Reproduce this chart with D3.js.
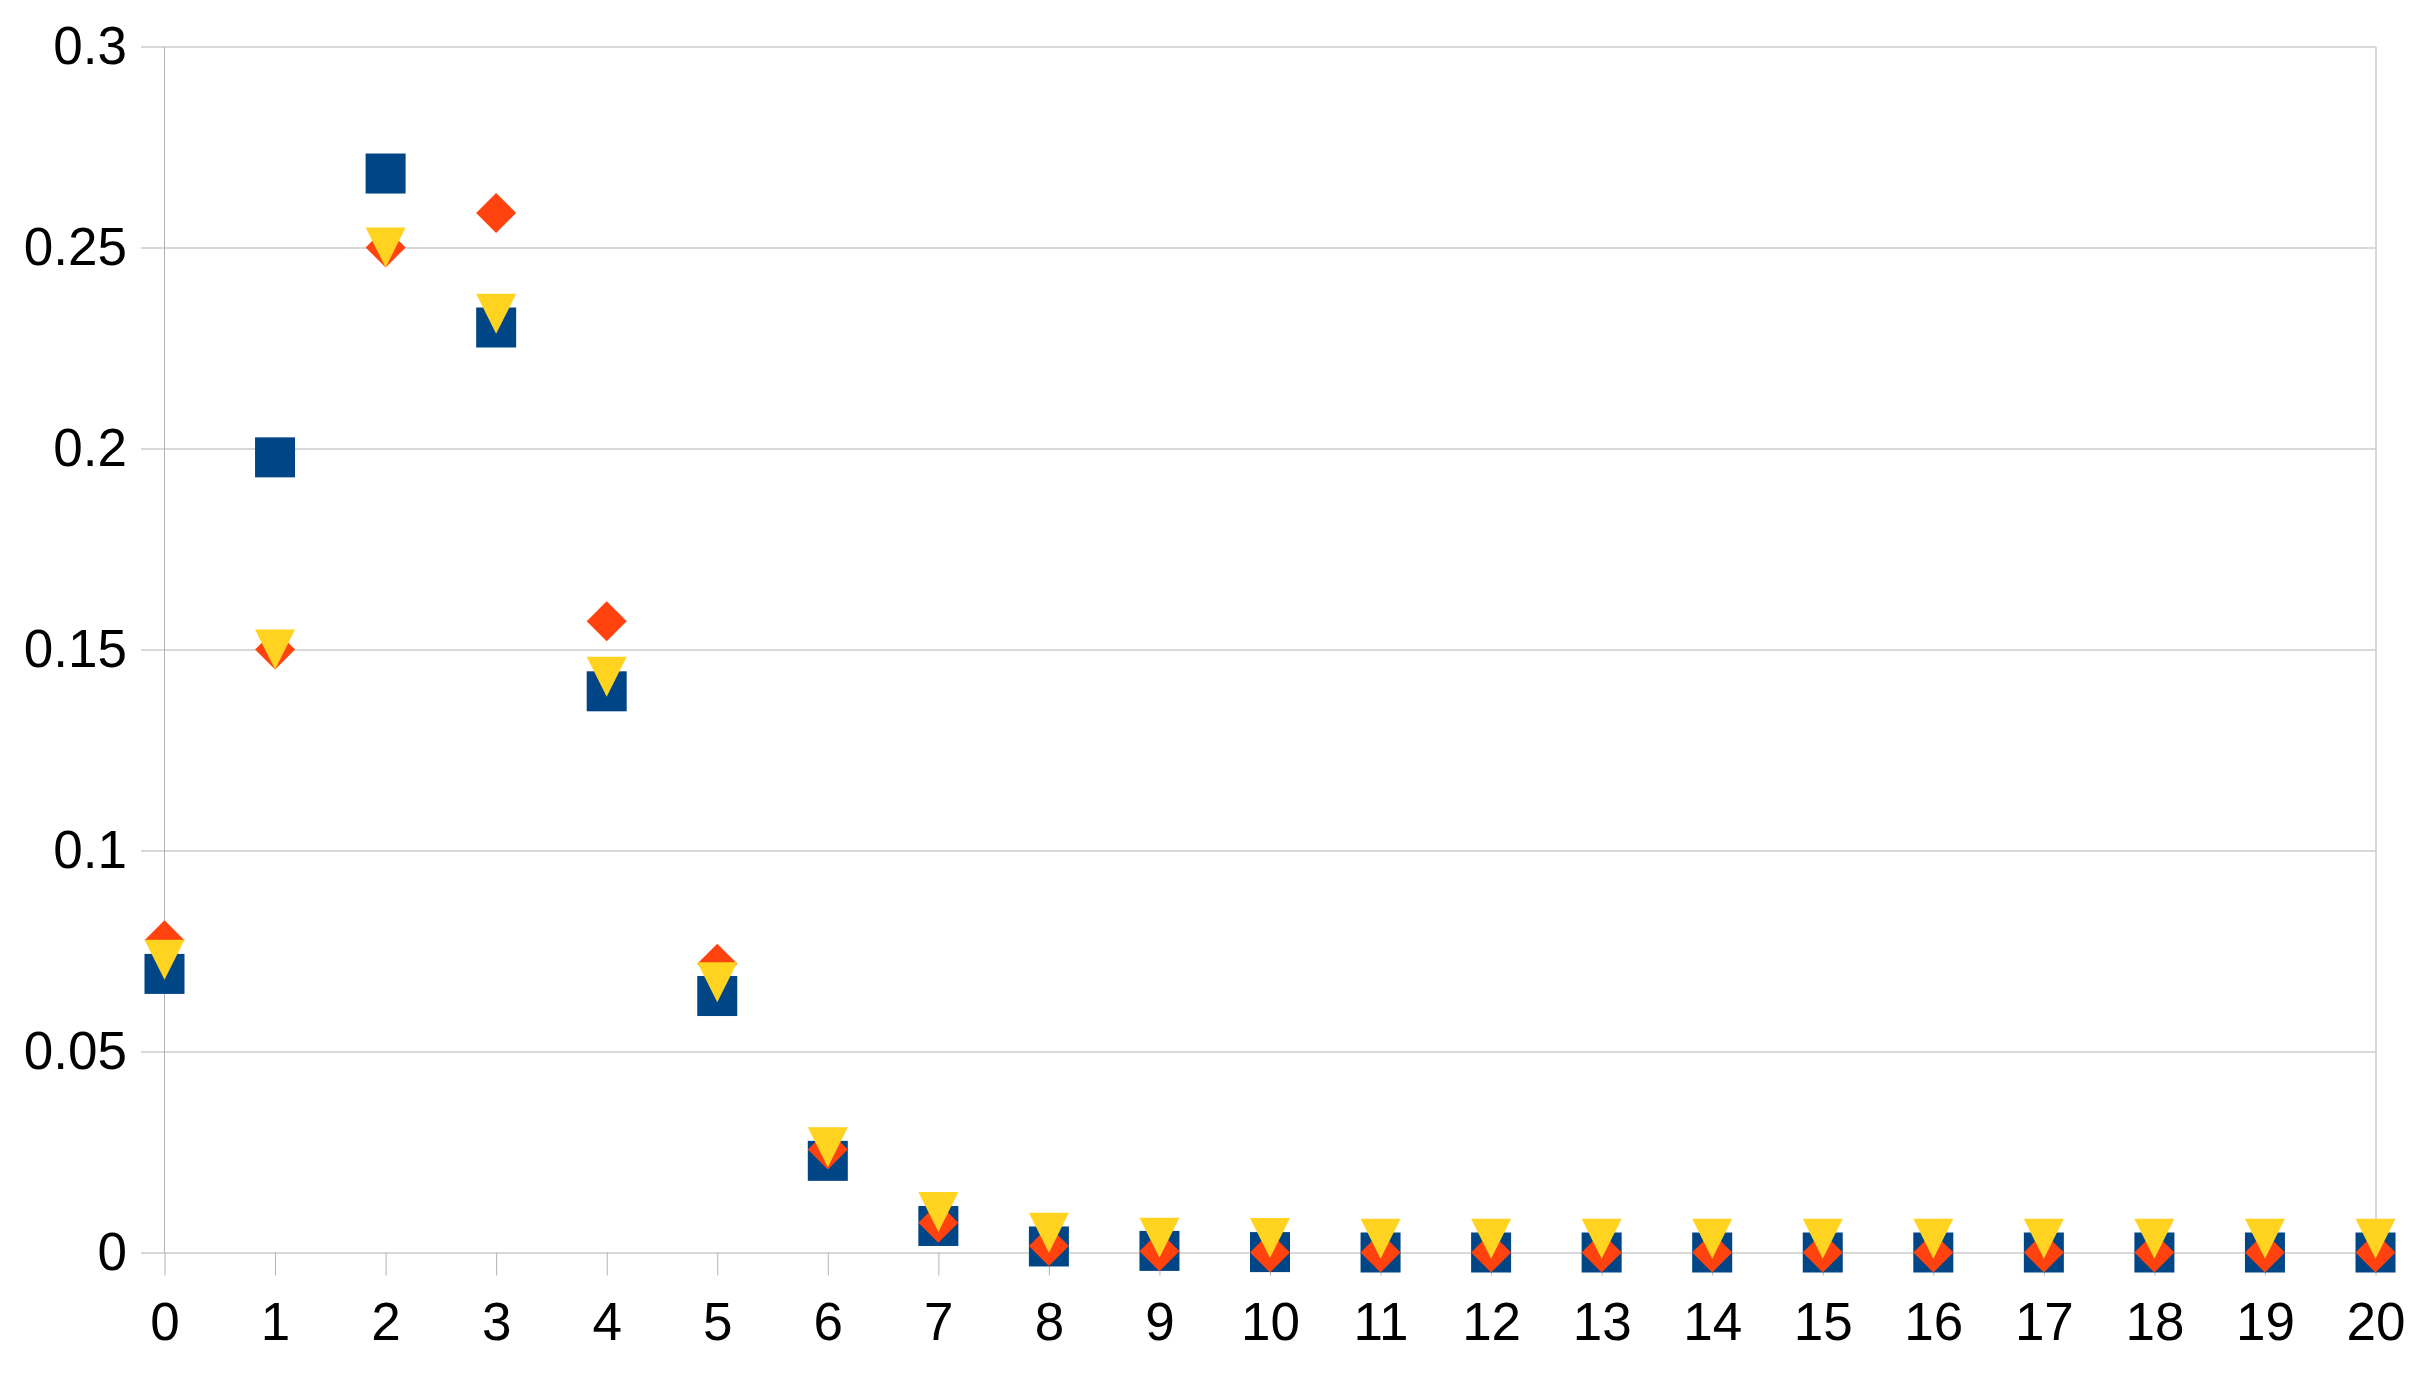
<!DOCTYPE html>
<html>
<head>
<meta charset="utf-8">
<script src="https://cdn.jsdelivr.net/npm/d3@7"></script>
<style>
body { margin: 0; background: #fff; }
text { font-family: "Liberation Sans", Arial, sans-serif; }
</style>
</head>
<body>
<script>
// x categories 0..20
var categories = [0, 1, 2, 3, 4, 5, 6, 7, 8, 9, 10, 11, 12, 13, 14, 15, 16, 17, 18, 19, 20];

// blue squares
var squareValues = [0.0693, 0.1978, 0.2684, 0.2301, 0.1396, 0.0638, 0.0228, 0.0066, 0.0015, 0.0004,
    0.0001, 0, 0, 0, 0, 0, 0, 0, 0, 0, 0];
// orange diamonds
var diamondValues = [0.0777, 0.15, 0.25, 0.2586, 0.157, 0.0718, 0.0256, 0.0074, 0.0016, 0.0003,
    0, 0, 0, 0, 0, 0, 0, 0, 0, 0, 0];
// yellow triangles
var triangleValues = [0.0728, 0.15, 0.25, 0.2335, 0.1432, 0.0672, 0.0262, 0.0101, 0.0049, 0.0037,
    0.0036, 0.0034, 0.0034, 0.0034, 0.0034, 0.0034, 0.0034, 0.0034, 0.0034, 0.0034, 0.0034];

var yTicks = [0, 0.05, 0.1, 0.15, 0.2, 0.25, 0.3];
var yTickLabels = ["0", "0.05", "0.1", "0.15", "0.2", "0.25", "0.3"];

var w = 2435;
var h = 1379;
// plot box (note: "top" is taken by window.top, so use longer names)
var plotLeft = 164.5, plotRight = 2375.5, plotTop = 46.5, plotBottom = 1252.5;
var gridColor = "#b3b3b3";
var fontSize = 53;
var m = 20; // half marker size

var svg = d3.select("body")
    .append("svg")
    .attr("width", w)
    .attr("height", h);

var x = d3.scaleLinear().domain([0, 20]).range([plotLeft, plotRight]);
var y = d3.scaleLinear().domain([0, 0.3]).range([plotBottom, plotTop]);

// horizontal gridlines + y labels (axis sits on the right edge, ticks run left)
var yAxis = svg.append("g")
    .attr("transform", "translate(" + plotRight + ",0)")
    .call(d3.axisLeft(y)
        .tickValues(yTicks)
        .tickFormat(function(d, i) { return yTickLabels[i]; })
        .tickSize(plotRight - 141)
        .tickSizeOuter(0)
        .tickPadding(14));
yAxis.selectAll("line").attr("stroke", gridColor);
yAxis.select(".domain").attr("stroke", gridColor);
yAxis.selectAll("text")
    .attr("font-size", fontSize + "px")
    .attr("fill", "#000")
    .style("font-family", "Liberation Sans, Arial, sans-serif");

// left vertical axis line
svg.append("line")
    .attr("x1", x(0)).attr("x2", x(0))
    .attr("y1", y(0.3)).attr("y2", y(0))
    .attr("stroke", gridColor);

// x axis ticks + labels
var xAxis = svg.append("g")
    .attr("transform", "translate(0," + plotBottom + ")")
    .call(d3.axisBottom(x)
        .tickValues(categories)
        .tickFormat(d3.format("d"))
        .tickSize(23)
        .tickPadding(27));
xAxis.select(".domain").remove();
xAxis.selectAll("line").attr("stroke", gridColor);
xAxis.selectAll("text")
    .attr("font-size", fontSize + "px")
    .attr("fill", "#000")
    .style("font-family", "Liberation Sans, Arial, sans-serif");

// squares
svg.selectAll(".sq")
    .data(squareValues)
    .enter()
    .append("rect")
    .attr("class", "sq")
    .attr("x", function(d, i) { return x(categories[i]) - m; })
    .attr("y", function(d) { return y(d) - m; })
    .attr("width", 2 * m)
    .attr("height", 2 * m)
    .attr("fill", "#004586");

// diamonds
svg.selectAll(".dia")
    .data(diamondValues)
    .enter()
    .append("path")
    .attr("class", "dia")
    .attr("d", function(d, i) {
        var cx = x(categories[i]), cy = y(d);
        return "M" + cx + "," + (cy - m) + "L" + (cx + m) + "," + cy +
            "L" + cx + "," + (cy + m) + "L" + (cx - m) + "," + cy + "Z";
    })
    .attr("fill", "#ff420e");

// down triangles
svg.selectAll(".tri")
    .data(triangleValues)
    .enter()
    .append("path")
    .attr("class", "tri")
    .attr("d", function(d, i) {
        var cx = x(categories[i]), cy = y(d);
        return "M" + (cx - m) + "," + (cy - m) + "L" + (cx + m) + "," + (cy - m) +
            "L" + cx + "," + (cy + m) + "Z";
    })
    .attr("fill", "#ffd320");
</script>
</body>
</html>
